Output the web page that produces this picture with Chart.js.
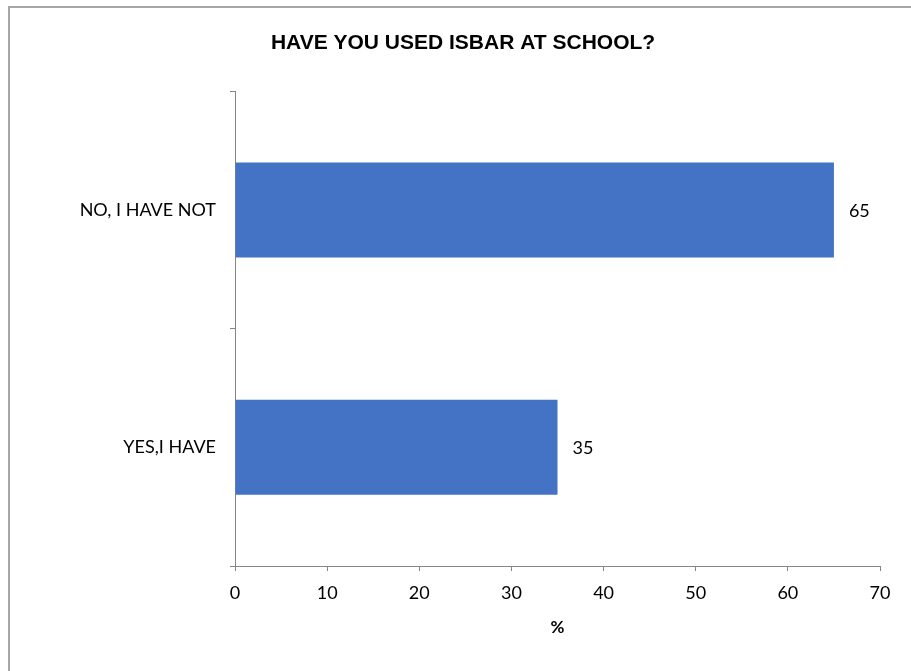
<!DOCTYPE html>
<html>
<head>
<meta charset="utf-8">
<script src="https://cdn.jsdelivr.net/npm/chart.js@4.4.1/dist/chart.umd.min.js"></script>
<style>
  html, body { margin: 0; padding: 0; background: #fff; overflow: hidden; }
  #wrap { position: relative; width: 911px; height: 671px; }
  #frame {
    position: absolute; left: 8px; top: 6px; width: 920px; height: 700px;
    border-top: 2px solid #a6a6a6; border-left: 2px solid #a6a6a6;
  }
  canvas { position: absolute; left: 0; top: 0; }
</style>
</head>
<body>
<div id="wrap">
  <div id="frame"></div>
  <canvas id="chart" width="911" height="671"></canvas>
</div>
<script>
// Chart data
const categories = ['NO, I HAVE NOT', 'YES,I HAVE'];
const percentValues = [65, 35];
const xTicks = [0, 10, 20, 30, 40, 50, 60, 70];

const FONT = 'Lato, "Open Sans", sans-serif';
const AXIS_GRAY = '#868686';

/* ── value labels at the end of each bar ── */
const barLabels = {
  id: 'barLabels',
  afterDatasetsDraw(chart) {
    const { ctx } = chart;
    const meta = chart.getDatasetMeta(0);
    ctx.save();
    ctx.font = '18px ' + FONT;
    ctx.fillStyle = '#000';
    ctx.textAlign = 'left';
    ctx.textBaseline = 'middle';
    meta.data.forEach((bar, i) => {
      ctx.fillText(String(percentValues[i]), bar.x + 15, bar.y + 1);
    });
    ctx.restore();
  }
};

new Chart(document.getElementById('chart'), {
  type: 'bar',
  data: {
    labels: categories,
    datasets: [{
      data: percentValues,
      backgroundColor: '#4472C4',
      borderWidth: 0,
      barPercentage: 0.4,
      categoryPercentage: 1
    }]
  },
  options: {
    indexAxis: 'y',
    responsive: false,
    animation: false,
    // left/right padding also shifts the title centre to match the original
    layout: { padding: { left: 46, right: 31, top: 0, bottom: 0 } },
    plugins: {
      legend: { display: false },
      tooltip: { enabled: false },
      title: {
        display: true,
        text: 'HAVE YOU USED ISBAR AT SCHOOL?',
        color: '#000',
        font: { family: '"Liberation Sans", Arial, sans-serif', size: 21, weight: 'bold' },
        padding: { top: 31, bottom: 35 }
      }
    },
    scales: {
      x: {
        min: 0,
        max: 70,
        afterBuildTicks(scale) {
          scale.ticks = xTicks.map(v => ({ value: v }));
        },
        afterFit(scale) { scale.height = 105; },
        grid: {
          drawOnChartArea: false,
          drawTicks: true,
          tickLength: 5,
          color: AXIS_GRAY
        },
        border: { color: AXIS_GRAY, width: 1 },
        ticks: {
          color: '#000',
          padding: 11,
          font: { family: FONT, size: 18 }
        },
        title: {
          display: true,
          text: '%',
          color: '#000',
          font: { family: FONT, size: 17, weight: 'bold' },
          padding: { top: 4, bottom: 33 }
        }
      },
      y: {
        afterFit(scale) { scale.width = 189; },
        grid: {
          offset: true,
          drawOnChartArea: false,
          drawTicks: true,
          tickLength: 5,
          color: AXIS_GRAY
        },
        border: { color: AXIS_GRAY, width: 1 },
        ticks: {
          color: '#000',
          padding: 14,
          font: { family: FONT, size: 18 }
        }
      }
    }
  },
  plugins: [barLabels]
});
</script>
</body>
</html>
